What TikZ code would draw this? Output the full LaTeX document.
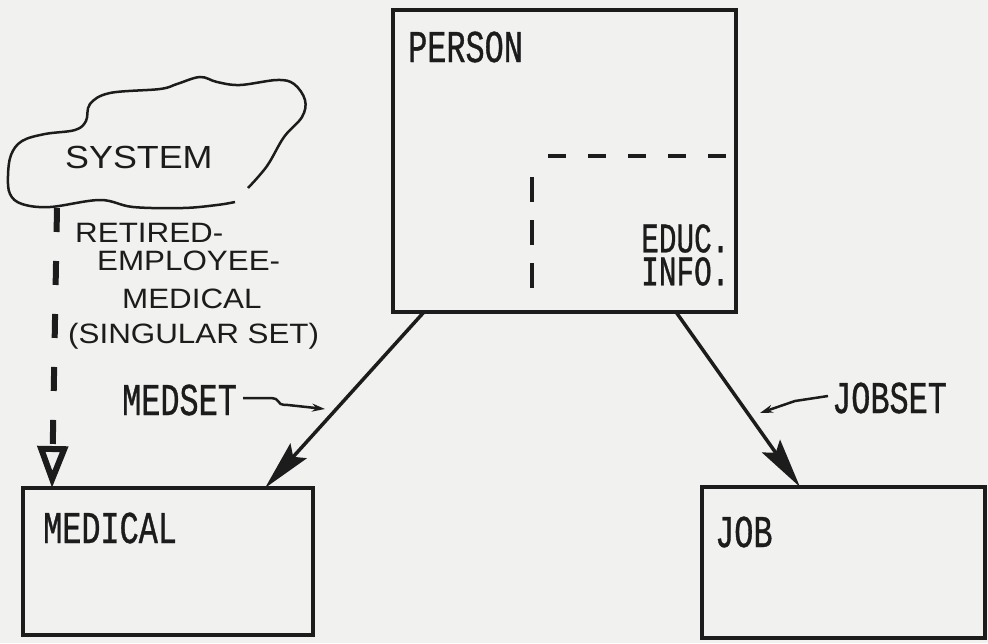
\documentclass[tikz,border=0pt]{standalone}
\usepackage{fontspec}
\usetikzlibrary{arrows.meta,calc}
\newfontfamily\plotfont[FakeStretch=0.70,FakeBold=0.8]{Liberation Mono}
\newfontfamily\handfont[FakeStretch=1.12]{Liberation Sans}
\definecolor{ink}{HTML}{1C1C1C}
\definecolor{paper}{HTML}{F1F1EF}
\begin{document}
\begin{tikzpicture}[x=1pt,y=-1pt,
  box/.style={draw=ink, line width=4.5pt, rectangle, inner sep=0pt, outer sep=0pt, anchor=north west},
  plotlabel/.style={inner sep=0pt, anchor=base west, text=ink, font=\plotfont\fontsize{45.5}{48}\selectfont},
  smalllabel/.style={inner sep=0pt, anchor=north west, align=left, text=ink, font=\plotfont\fontsize{42}{33}\selectfont},
  handlabel/.style={inner sep=0pt, anchor=base west, text=ink, font=\handfont\fontsize{28}{30}\selectfont},
  conn/.style={draw=ink, line width=3.5pt, -{Stealth[length=50pt,width=22pt,inset=8pt]}},
  pointer/.style={draw=ink, line width=2.5pt, -{Stealth[length=13pt,width=8pt]}},
  innerdash/.style={draw=ink, line width=4pt},
  singular/.style={draw=ink, line width=6pt, dash pattern=on 24pt off 29pt, -{Triangle[open,length=42pt,width=30pt]}},
  cloudline/.style={draw=ink, line width=2.5pt}
]
\fill[paper] (0,0) rectangle (988,643);
\useasboundingbox (0,0) rectangle (988,643);

% boxes
\node[box, minimum width=343pt, minimum height=302pt] (person) at (393,10) {};
\node[box, minimum width=290pt, minimum height=147pt] (medical) at (23,488) {};
\node[box, minimum width=283pt, minimum height=151pt] (job) at (702,487) {};

% typed labels
\node[plotlabel] (personlbl) at (408,62) {PERSON};
\node[plotlabel] (medicallbl) at (43,543) {MEDICAL};
\node[plotlabel] (joblbl) at (715,547) {JOB};
\node[plotlabel] (medset) at (122,415) {MEDSET};
\node[plotlabel] (jobset) at (832,413) {JOBSET};
\node[smalllabel] (educinfo) at (641,224) {EDUC.\\INFO.};

% inner dashed corner in PERSON
\draw[innerdash, dash pattern=on 25pt off 18pt] (532,177) -- (532,292);
\draw[innerdash, dash pattern=on 18pt off 22pt] (548,156) -- (728,156);

% cloud
\draw[cloudline] plot[smooth, tension=0.6] coordinates {
  (235,202) (217,205) (183,208) (133,207) (100,200) (50,207) (22,204)
  (10,194) (8,176) (11,155) (22,141) (45,134) (75,130) (86,121) (90,104)
  (110,93) (160,89) (177,84) (200,77) (217,82) (240,85) (277,80) (294,84)
  (305,100) (302,117) (284,137) (267,166) (248,188)};
\node[handlabel, font=\handfont\fontsize{32}{34}\selectfont] (system) at (65,168) {SYSTEM};

% handwritten set name
\node[handlabel] (ret1) at (75,242) {RETIRED-};
\node[handlabel] (ret2) at (97,270) {EMPLOYEE-};
\node[handlabel] (ret3) at (122,308) {MEDICAL};
\node[handlabel] (ret4) at (68,343) {(SINGULAR SET)};

% singular set connector
\coordinate (cloudfoot) at (57,208);
\draw[singular] (cloudfoot) -- ($(medical.north west)+(29,0)$);

% set connectors
\draw[conn] ($(person.south west)+(31,0)$) -- ($(medical.north west)+(242,0)$);
\draw[conn] ($(person.south west)+(283,0)$) -- ($(job.north west)+(98,0)$);

% label pointers
\coordinate (medsettip) at (325,409);
\draw[pointer] ($(medset.east)+(6,-2)$) -- (268,398) .. controls (285,398) and (272,405) .. (288,405) -- (medsettip);
\coordinate (jobsettip) at (760,413);
\draw[pointer] ($(jobset.west)+(-4,-2)$) -- (795,401) -- (jobsettip);
\end{tikzpicture}
\end{document}
